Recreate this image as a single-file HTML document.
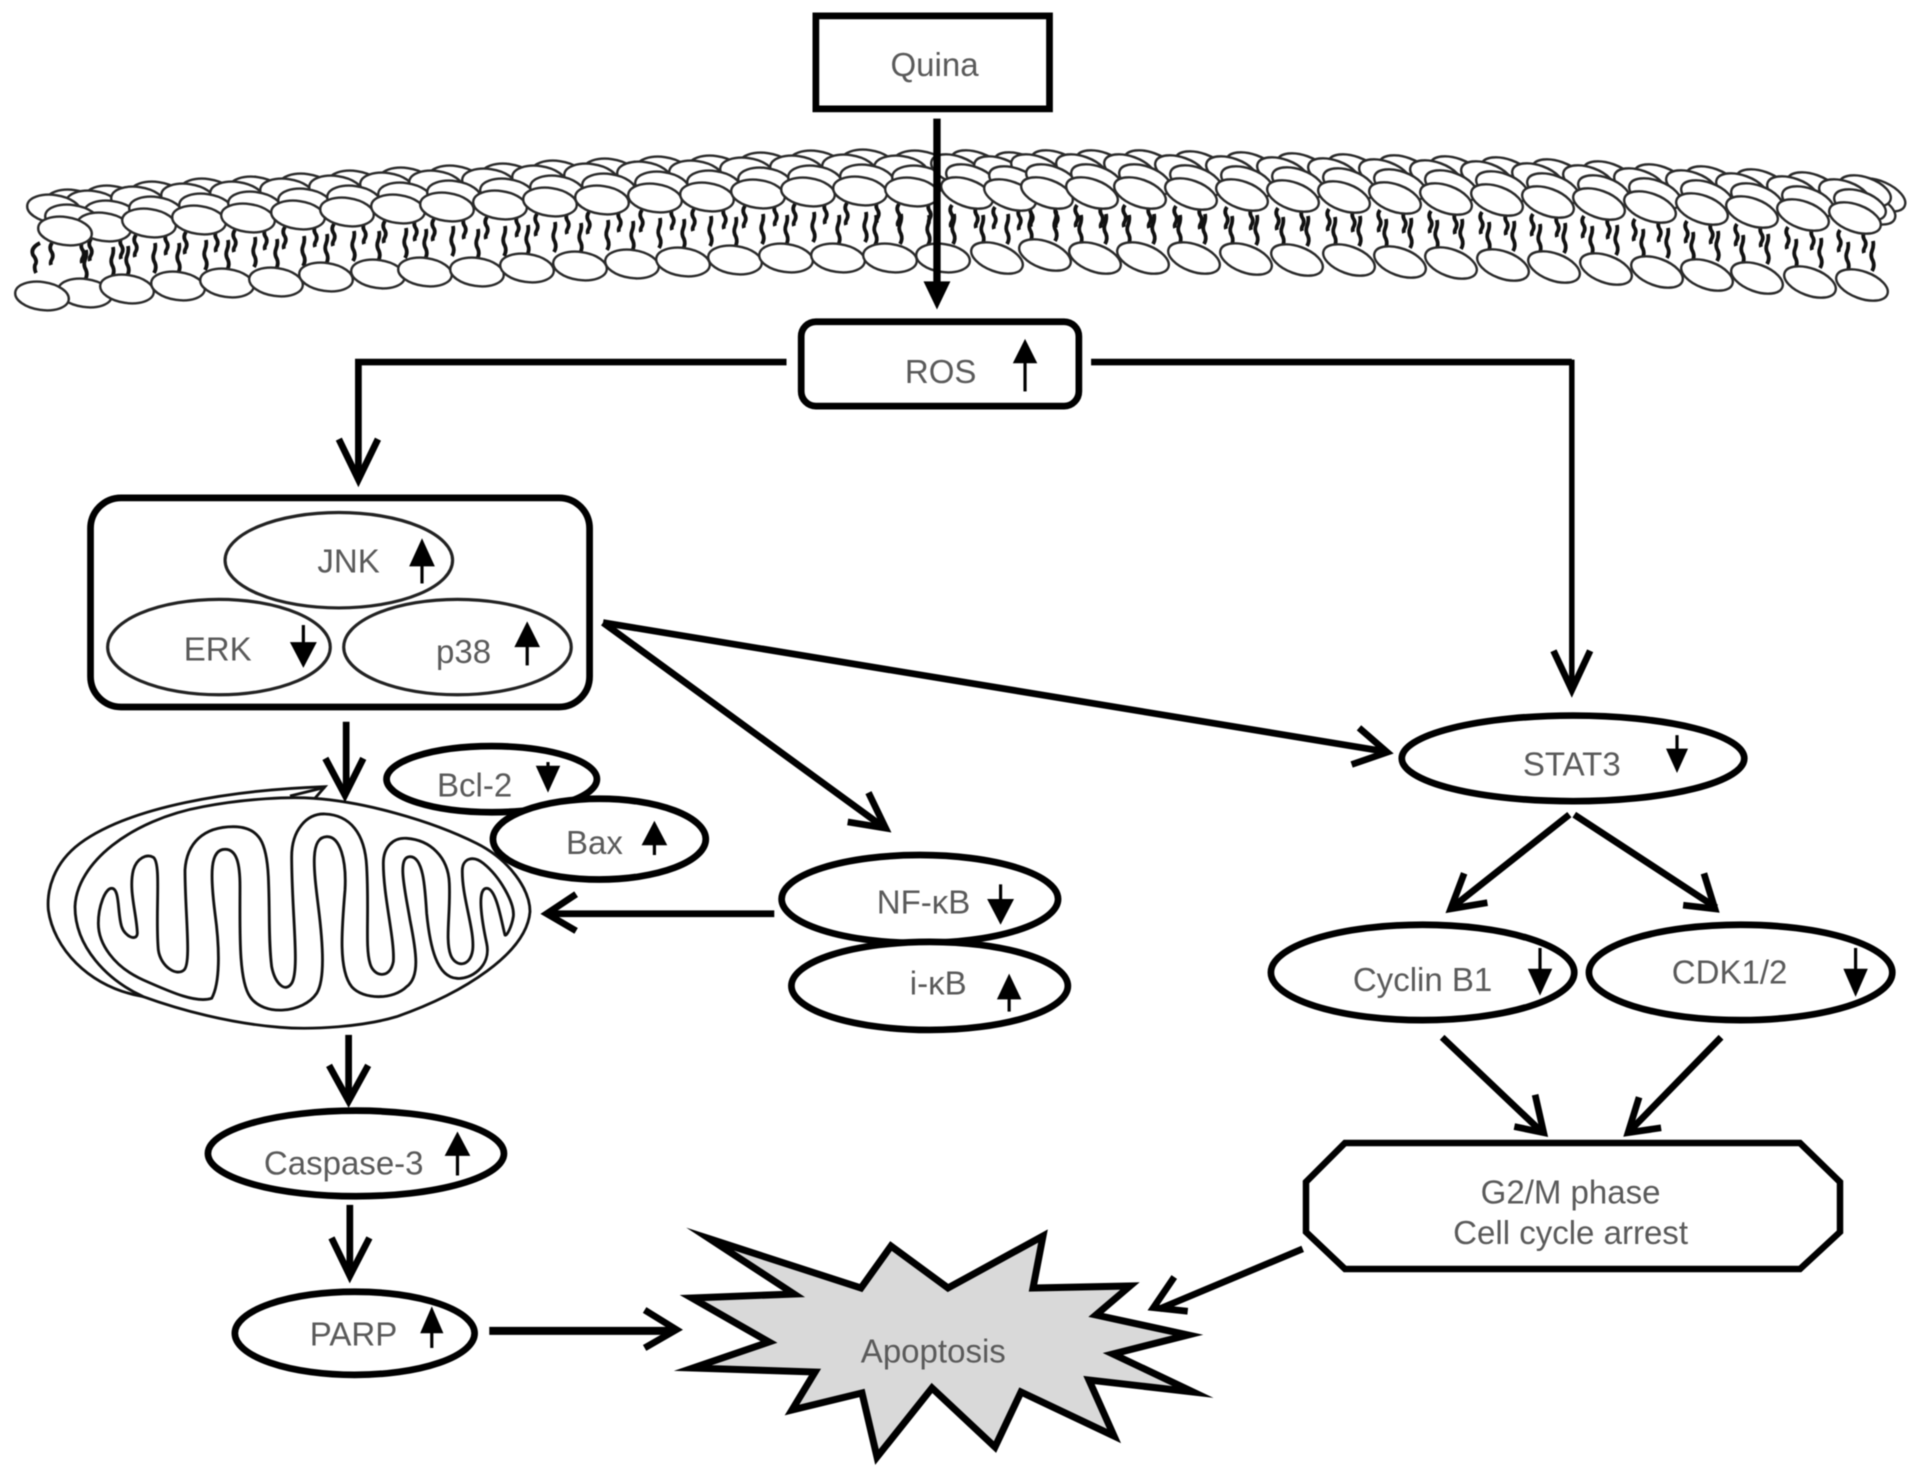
<!DOCTYPE html>
<html><head><meta charset="utf-8"><title>Quina pathway diagram</title>
<style>html,body{margin:0;padding:0;background:#fff}svg{display:block;filter:blur(.4px)}
text{font-family:"Liberation Sans",Arial,sans-serif;font-size:27px;fill:#5a5a5a;text-anchor:middle}</style></head>
<body>
<svg xmlns="http://www.w3.org/2000/svg" width="1913" height="1482" viewBox="0 0 1913 1482">
<rect width="1913" height="1482" fill="#fff"/>
<defs>
<ellipse id="el" rx="27" ry="14" transform="rotate(8)" fill="#fff" stroke="#2a2a2a" stroke-width="2.4"/>
<ellipse id="er" rx="27" ry="13.5" transform="rotate(20)" fill="#fff" stroke="#2a2a2a" stroke-width="2.4"/>
<path id="wd" d="M0 0q-3 4 -1 8q3 4 1 8q-2 3 -1 6" fill="none" stroke="#111" stroke-width="3.8"/>
<path id="wu" d="M0 0q3 -5 1 -10q-3 -5 -1 -10q2 -5 1 -10" fill="none" stroke="#111" stroke-width="3.8"/>
<g id="tt"><use href="#wd" x="-13" y="12"/><use href="#wd" x="18" y="10"/></g>
<g id="ttr"><use href="#wd" x="-15" y="12"/><use href="#wd" x="10" y="13"/></g>
<g id="tb"><use href="#wu" x="0" y="-13"/><use href="#wu" x="27" y="-16"/></g>
<g id="tbr"><use href="#wu" x="-15" y="-13"/><use href="#wu" x="10" y="-14"/></g>
<g id="fl">
<use href="#el" x="104" y="227"/><use href="#el" x="65" y="231"/><use href="#el" x="149" y="223"/><use href="#el" x="199" y="220"/><use href="#el" x="248" y="218"/><use href="#el" x="298" y="215"/><use href="#el" x="347" y="212"/><use href="#el" x="398" y="209"/><use href="#el" x="447" y="207"/><use href="#el" x="500" y="205"/><use href="#el" x="550" y="202"/><use href="#el" x="602" y="200"/><use href="#el" x="655" y="198"/><use href="#el" x="707" y="197"/><use href="#el" x="758" y="194"/><use href="#el" x="808" y="192"/><use href="#el" x="860" y="191"/><use href="#el" x="912" y="192"/>
</g>
<g id="fr">
<use href="#er" x="967" y="193"/><use href="#er" x="1010" y="195"/><use href="#er" x="1047" y="193"/><use href="#er" x="1092" y="193"/><use href="#er" x="1140" y="193"/><use href="#er" x="1191" y="194"/><use href="#er" x="1242" y="195"/><use href="#er" x="1293" y="196"/><use href="#er" x="1344" y="197"/><use href="#er" x="1395" y="198"/><use href="#er" x="1446" y="199"/><use href="#er" x="1497" y="200"/><use href="#er" x="1548" y="202"/><use href="#er" x="1599" y="204"/><use href="#er" x="1650" y="207"/><use href="#er" x="1702" y="209"/><use href="#er" x="1752" y="212"/><use href="#er" x="1803" y="215"/><use href="#er" x="1855" y="218"/>
</g>
</defs>

<!-- membrane: tails -->
<g>
<use href="#tt" x="65" y="231"/><use href="#tt" x="104" y="227"/><use href="#tt" x="149" y="223"/><use href="#tt" x="199" y="220"/><use href="#tt" x="248" y="218"/><use href="#tt" x="298" y="215"/><use href="#tt" x="347" y="212"/><use href="#tt" x="398" y="209"/><use href="#tt" x="447" y="207"/><use href="#tt" x="500" y="205"/><use href="#tt" x="550" y="202"/><use href="#tt" x="602" y="200"/><use href="#tt" x="655" y="198"/><use href="#tt" x="707" y="197"/><use href="#tt" x="758" y="194"/><use href="#tt" x="808" y="192"/><use href="#tt" x="860" y="191"/><use href="#tt" x="912" y="192"/>
<use href="#ttr" x="967" y="193"/><use href="#ttr" x="1010" y="195"/><use href="#ttr" x="1047" y="193"/><use href="#ttr" x="1092" y="193"/><use href="#ttr" x="1140" y="193"/><use href="#ttr" x="1191" y="194"/><use href="#ttr" x="1242" y="195"/><use href="#ttr" x="1293" y="196"/><use href="#ttr" x="1344" y="197"/><use href="#ttr" x="1395" y="198"/><use href="#ttr" x="1446" y="199"/><use href="#ttr" x="1497" y="200"/><use href="#ttr" x="1548" y="202"/><use href="#ttr" x="1599" y="204"/><use href="#ttr" x="1650" y="207"/><use href="#ttr" x="1702" y="209"/><use href="#ttr" x="1752" y="212"/><use href="#ttr" x="1803" y="215"/><use href="#ttr" x="1855" y="218"/>
<use href="#tb" x="85" y="293"/><use href="#tb" x="127" y="289"/><use href="#tb" x="178" y="286"/><use href="#tb" x="227" y="283"/><use href="#tb" x="276" y="282"/><use href="#tb" x="326" y="277"/><use href="#tb" x="378" y="274"/><use href="#tb" x="425" y="272"/><use href="#tb" x="477" y="272"/><use href="#tb" x="527" y="268"/><use href="#tb" x="580" y="266"/><use href="#tb" x="632" y="264"/><use href="#tb" x="683" y="262"/><use href="#tb" x="735" y="260"/><use href="#tb" x="786" y="258"/><use href="#tb" x="838" y="258"/>
<use href="#tbr" x="890" y="258"/><use href="#tbr" x="943" y="258"/><use href="#tbr" x="997" y="258"/><use href="#tbr" x="1045" y="255"/><use href="#tbr" x="1095" y="258"/><use href="#tbr" x="1143" y="258"/><use href="#tbr" x="1194" y="258"/><use href="#tbr" x="1246" y="259"/><use href="#tbr" x="1297" y="260"/><use href="#tbr" x="1349" y="260"/><use href="#tbr" x="1400" y="262"/><use href="#tbr" x="1451" y="263"/><use href="#tbr" x="1503" y="265"/><use href="#tbr" x="1554" y="267"/><use href="#tbr" x="1606" y="269"/><use href="#tbr" x="1657" y="272"/><use href="#tbr" x="1707" y="275"/><use href="#tbr" x="1757" y="278"/><use href="#tbr" x="1810" y="282"/><use href="#tbr" x="1862" y="285"/>
<path d="M40 243q-10 5 -7 12q5 6 2 10q-1 4 1 8" fill="none" stroke="#111" stroke-width="3.8"/>
</g>
<!-- membrane: heads, back to front -->
<use href="#fl" transform="translate(8,-27)"/>
<use href="#fl" transform="translate(-11,-22)"/>
<use href="#fl" transform="translate(7,-12)"/>
<use href="#fl"/>
<ellipse cx="1880" cy="195" rx="27" ry="13.5" transform="rotate(24 1880 195)" fill="#fff" stroke="#2a2a2a" stroke-width="2.4"/>
<ellipse cx="1870" cy="208" rx="27" ry="13.5" transform="rotate(24 1870 208)" fill="#fff" stroke="#2a2a2a" stroke-width="2.4"/>
<use href="#fr" transform="translate(10,-27)"/>
<use href="#fr" transform="translate(-10,-23)"/>
<use href="#fr" transform="translate(5,-13)"/>
<use href="#fr"/>
<!-- bottom heads -->
<g>
<use href="#el" x="85" y="293"/><use href="#el" x="42" y="296"/><use href="#el" x="127" y="289"/><use href="#el" x="178" y="286"/><use href="#el" x="227" y="283"/><use href="#el" x="276" y="282"/><use href="#el" x="326" y="277"/><use href="#el" x="378" y="274"/><use href="#el" x="425" y="272"/><use href="#el" x="477" y="272"/><use href="#el" x="527" y="268"/><use href="#el" x="580" y="266"/><use href="#el" x="632" y="264"/><use href="#el" x="683" y="262"/><use href="#el" x="735" y="260"/><use href="#el" x="786" y="258"/><use href="#el" x="838" y="258"/><use href="#el" x="890" y="258"/><use href="#el" x="943" y="258"/>
<use href="#er" x="997" y="258"/><use href="#er" x="1045" y="255"/><use href="#er" x="1095" y="258"/><use href="#er" x="1143" y="258"/><use href="#er" x="1194" y="258"/><use href="#er" x="1246" y="259"/><use href="#er" x="1297" y="260"/><use href="#er" x="1349" y="260"/><use href="#er" x="1400" y="262"/><use href="#er" x="1451" y="263"/><use href="#er" x="1503" y="265"/><use href="#er" x="1554" y="267"/><use href="#er" x="1606" y="269"/><use href="#er" x="1657" y="272"/><use href="#er" x="1707" y="275"/><use href="#er" x="1757" y="278"/><use href="#er" x="1810" y="282"/><use href="#er" x="1862" y="285"/>
</g>

<!-- mitochondrion -->
<g transform="translate(30,780) scale(.33333)" fill="#fff" stroke="#111" stroke-width="8.5">
<path d="M885 20C600 30 300 80 150 190C70 250 50 330 55 390C70 500 170 620 340 650Z"/>
<path d="M885 22L780 48" fill="none"/>
<path d="M135 380C140 250 300 120 520 80C650 55 780 50 850 55C1000 65 1200 120 1340 190C1440 240 1500 330 1500 395C1490 520 1300 640 1100 710C1000 740 850 750 750 742C600 730 450 690 340 650C230 600 135 500 135 380Z"/>
<path d="M205 430C205 380 225 325 245 325C270 325 262 400 275 440C285 470 320 485 322 460C320 400 295 330 310 270C320 235 350 220 370 232C395 250 375 400 385 510C392 560 440 590 462 570C485 550 465 400 465 270C470 190 520 140 610 140C690 140 710 190 715 290C720 400 715 480 725 560C735 610 765 640 785 610C810 570 785 400 785 230C785 150 830 100 885 102C960 105 1005 160 1010 260C1018 400 1005 500 1020 550C1030 590 1080 600 1090 545C1095 480 1060 350 1060 250C1060 200 1090 172 1130 175C1200 180 1255 230 1258 310C1262 400 1245 480 1262 525C1275 560 1320 565 1328 510C1335 450 1295 350 1297 270C1298 235 1330 225 1360 250C1410 290 1455 370 1450 410C1445 440 1430 470 1425 465C1415 430 1400 325 1370 325C1340 325 1355 420 1370 490C1385 560 1320 600 1280 595C1220 590 1200 500 1190 400C1185 320 1180 230 1140 230C1100 230 1125 330 1140 420C1160 520 1170 590 1130 620C1090 660 1000 660 965 620C925 570 935 450 945 330C950 240 930 168 890 170C840 172 850 260 865 380C880 500 885 600 860 640C820 700 700 710 660 650C625 600 630 450 630 320C630 250 620 208 585 208C540 208 540 280 555 400C570 510 570 610 545 655C500 670 430 640 340 600C250 560 205 490 205 430Z"/>
</g>

<!-- apoptosis star -->
<polygon points="710,1239 861,1288 891,1246 948,1288 1043,1236 1033,1288 1130,1286 1096,1315 1188,1335 1113,1354 1193,1392 1089,1380 1114,1436 1021,1392 995,1447 932,1388 877,1457 862,1393 792,1410 815,1372 693,1368 769,1342 692,1298 794,1294" fill="#d9d9d9" stroke="#000" stroke-width="7" stroke-miterlimit="12"/>

<!-- octagon -->
<polygon points="1345,1143 1800,1143 1840,1182 1840,1232 1800,1269 1345,1269 1306,1232 1306,1182" fill="#fff" stroke="#000" stroke-width="6.5"/>

<g transform="scale(1.2232)">
<!-- boxes -->
<rect x="667" y="13" width="191" height="76" fill="#fff" stroke="#000" stroke-width="5.5"/>
<rect x="655" y="263" width="227" height="69" rx="12" fill="#fff" stroke="#000" stroke-width="5.5"/>
<rect x="74" y="407" width="408" height="171" rx="25" fill="#fff" stroke="#000" stroke-width="5.5"/>

<!-- MAPK ellipses -->
<g fill="none" stroke="#222" stroke-width="2.6">
<ellipse cx="277" cy="458" rx="93" ry="39"/>
<ellipse cx="179" cy="529" rx="91" ry="39"/>
<ellipse cx="374" cy="529" rx="93" ry="39"/>
</g>

<!-- thick ellipses -->
<g fill="#fff" stroke="#000" stroke-width="5.5">
<ellipse cx="402" cy="637" rx="86" ry="27"/>
<ellipse cx="490" cy="686" rx="87" ry="33"/>
<ellipse cx="752" cy="735" rx="113" ry="36"/>
<ellipse cx="760" cy="806" rx="113" ry="36"/>
<ellipse cx="1286" cy="620" rx="140" ry="35"/>
<ellipse cx="1163" cy="795" rx="124" ry="39"/>
<ellipse cx="1423" cy="795" rx="124" ry="39"/>
<ellipse cx="291" cy="943" rx="121" ry="35"/>
<ellipse cx="290" cy="1090" rx="98" ry="34"/>
</g>

<!-- connectors -->
<g fill="none" stroke="#000" stroke-width="5.5" stroke-linejoin="miter">
<path d="M766 97V235" stroke-width="6"/>
<path d="M643 296H293V388"/>
<path d="M277 359L293 392L309 359"/>
<path d="M892 296H1285" />
<path d="M1285 294V560" stroke-width="4.5"/>
<path d="M1270 532L1285 564L1300 532"/>
<path d="M493 509L1130 614"/>
<path d="M1111 595L1134 615L1105 625"/>
<path d="M493 509L722 676"/>
<path d="M710 648L724 677L693 672"/>
<path d="M283 590V648"/>
<path d="M266 620L282 650L297 620"/>
<path d="M633 747H450"/>
<path d="M471 731L447 747L471 761"/>
<path d="M285 846V898"/>
<path d="M269 871L285 900L301 871"/>
<path d="M286 985V1041"/>
<path d="M271 1012L286 1043L302 1012"/>
<path d="M400 1088H549" stroke-width="6.5"/>
<path d="M527 1071L553 1087L527 1102"/>
<path d="M1283 666L1187 742"/>
<path d="M1197 714L1186 743L1216 738"/>
<path d="M1287 666L1403 742"/>
<path d="M1393 714L1402 743L1376 740"/>
<path d="M1179 848L1260 925"/>
<path d="M1255 895L1262 926L1238 921"/>
<path d="M1407 848L1332 925"/>
<path d="M1340 897L1331 926L1358 922"/>
<path d="M1065 1021L948 1070"/>
<path d="M960 1044L943 1069L971 1072"/>
</g>
<polygon points="766,253 755,230 777,230" fill="#000"/>

<!-- small up/down arrow heads -->
<g fill="#000">
<path d="M838 277L848 297H828Z"/>
<path d="M345 440L355.500 463H334.500Z"/>
<path d="M248 546L237 525H259Z"/>
<path d="M431 508L441.500 529H420.500Z"/>
<path d="M448 648L438 626H458Z"/>
<path d="M535 671L545.500 691H524.500Z"/>
<path d="M818 756L807 735H829Z"/>
<path d="M825 796L835 817H815Z"/>
<path d="M1371 632L1362 612H1380Z"/>
<path d="M1259 814L1249 792H1269Z"/>
<path d="M1517 815L1507 792H1527Z"/>
<path d="M374 925L384.500 945H363.500Z"/>
<path d="M353 1068L362.500 1090H343.500Z"/>
</g>
<g fill="none" stroke="#000" stroke-width="2.6">
<path d="M838 296V320"/><path d="M345 462V477"/><path d="M248 526V511"/><path d="M431 528V544"/><path d="M448 627V623"/><path d="M535 690V699"/><path d="M818 736V723"/><path d="M825 816V827"/><path d="M1371 613V601"/><path d="M1259 793V775"/><path d="M1517 793V775"/><path d="M374 944V961"/><path d="M353 1089V1102"/>
</g>

<!-- labels -->
<text x="764" y="62">Quina</text>
<text x="769" y="313">ROS</text>
<text x="285" y="468">JNK</text>
<text x="178" y="540">ERK</text>
<text x="379" y="542">p38</text>
<text x="388" y="651">Bcl-2</text>
<text x="486" y="698">Bax</text>
<text x="755" y="747">NF-κB</text>
<text x="767" y="813">i-κB</text>
<text x="1285" y="634">STAT3</text>
<text x="1163" y="810">Cyclin B1</text>
<text x="1414" y="804">CDK1/2</text>
<text x="281" y="960">Caspase-3</text>
<text x="289" y="1100">PARP</text>
<text x="763" y="1114">Apoptosis</text>
<text x="1284" y="984">G2/M phase</text>
<text x="1284" y="1017">Cell cycle arrest</text>
</g>
</svg>
</body></html>
